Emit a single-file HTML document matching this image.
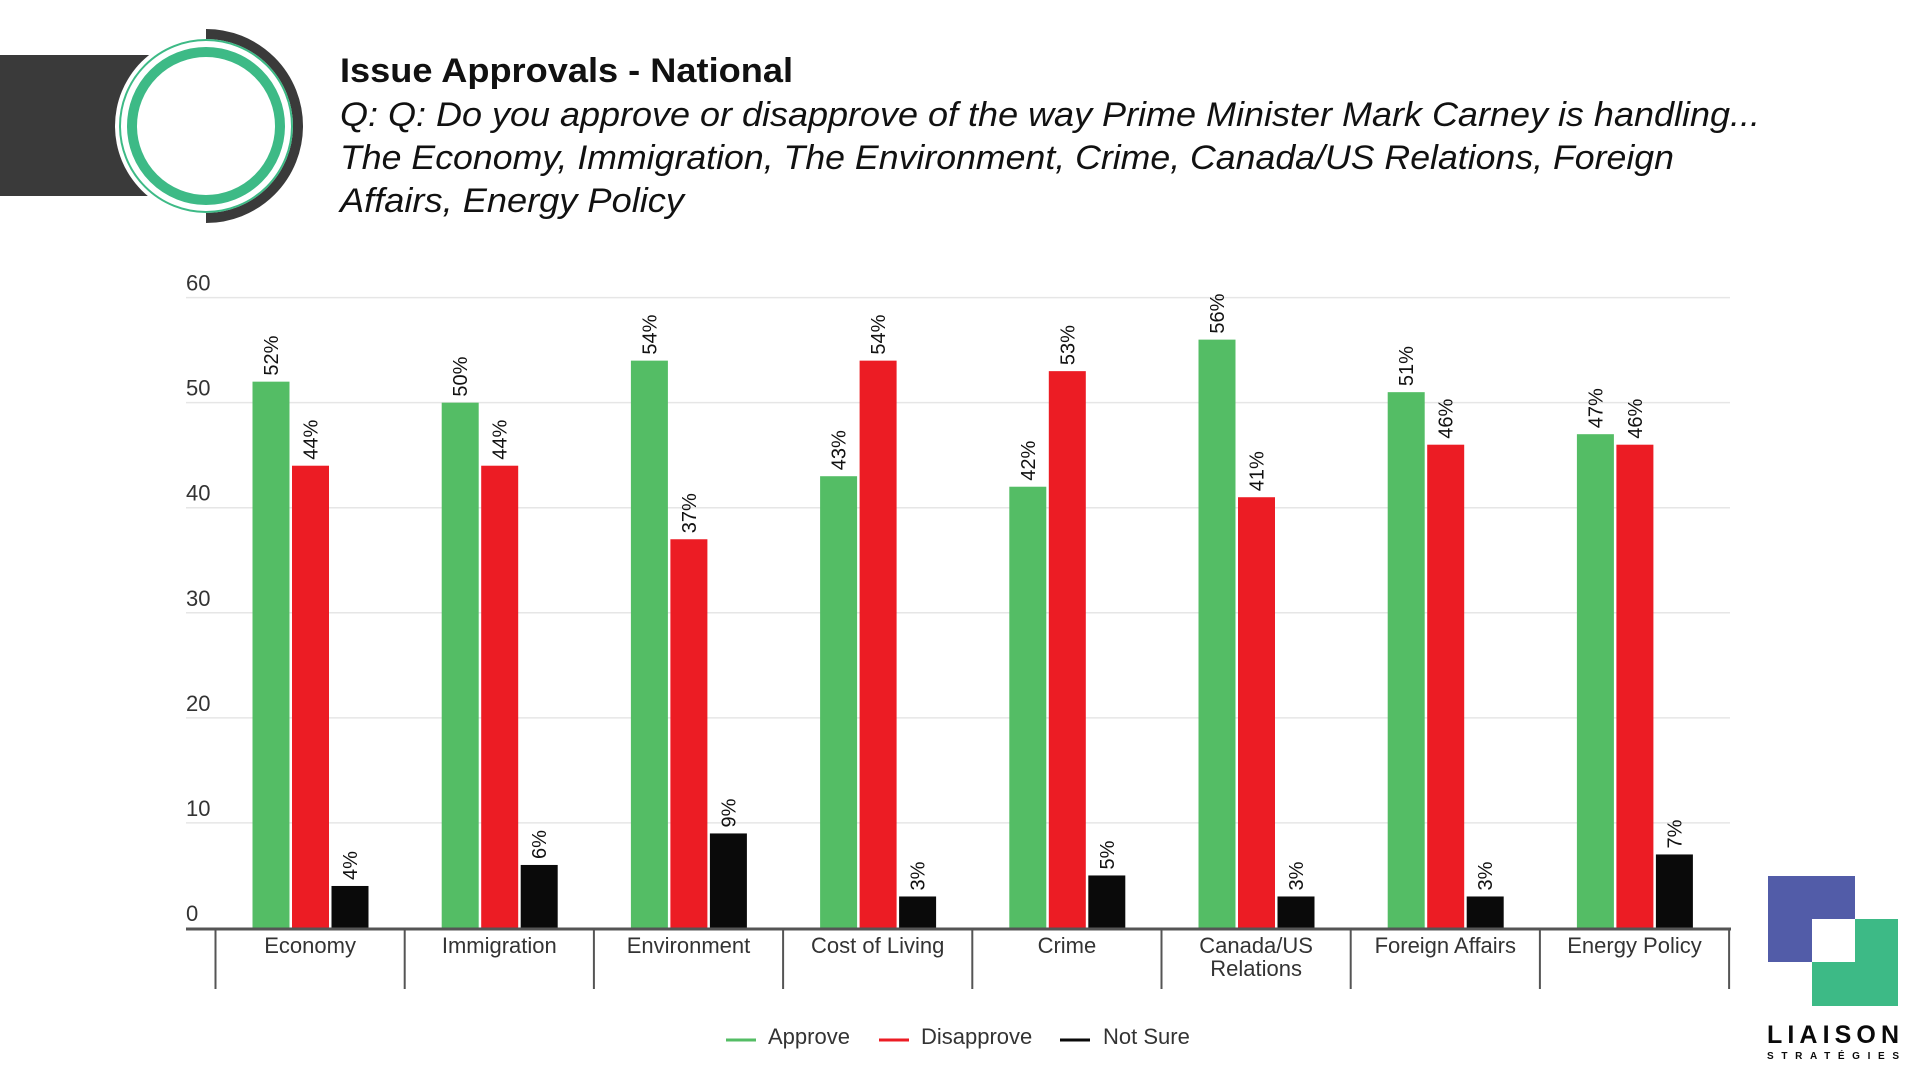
<!DOCTYPE html>
<html><head><meta charset="utf-8"><style>
html,body{margin:0;padding:0;background:#fff;width:1920px;height:1080px;overflow:hidden}
svg{display:block}
text{font-family:"Liberation Sans",sans-serif}
</style></head><body>
<svg id="chart" width="1920" height="1080" viewBox="0 0 1920 1080">
  <g>
    <rect x="0" y="55" width="160" height="141" fill="#3a3a3a"/>
    <circle cx="206" cy="126" r="91" fill="#fff"/>
    <path d="M 206 34 A 92 92 0 0 1 206 218" fill="none" stroke="#3a3a3a" stroke-width="10"/>
    <circle cx="206" cy="126" r="86" fill="#fff" stroke="#3dba86" stroke-width="2"/>
    <circle cx="206" cy="126" r="74" fill="#fff" stroke="#3dba86" stroke-width="10"/>
  </g>
  <text x="340" y="82" font-size="34" font-weight="bold" fill="#111" textLength="453" lengthAdjust="spacingAndGlyphs">Issue Approvals - National</text>
  <g font-size="34" font-style="italic" fill="#111">
    <text x="340" y="126" textLength="1420" lengthAdjust="spacingAndGlyphs">Q: Q: Do you approve or disapprove of the way Prime Minister Mark Carney is handling...</text>
    <text x="340" y="169" textLength="1334" lengthAdjust="spacingAndGlyphs">The Economy, Immigration, The Environment, Crime, Canada/US Relations, Foreign</text>
    <text x="340" y="212" textLength="344" lengthAdjust="spacingAndGlyphs">Affairs, Energy Policy</text>
  </g>
  <g id="grid"></g>
  <g id="bars"></g>
  <g id="xaxis"></g>
  <g font-size="22" fill="#333">
    <g><line x1="726" y1="1040" x2="756" y2="1040" stroke="#54bd65" stroke-width="3"/><text x="768" y="1044">Approve</text></g>
    <g><line x1="879" y1="1040" x2="909" y2="1040" stroke="#ec1c24" stroke-width="3"/><text x="921" y="1044">Disapprove</text></g>
    <g><line x1="1060" y1="1040" x2="1090" y2="1040" stroke="#0a0a0a" stroke-width="3"/><text x="1103" y="1044">Not Sure</text></g>
  </g>
  <g>
    <rect x="1768" y="876" width="87" height="86" fill="#525ca8"/>
    <rect x="1812" y="919" width="86" height="87" fill="#3dba86"/>
    <rect x="1812" y="919" width="43" height="43" fill="#fff"/>
    <text x="1767" y="1043" font-size="25" font-weight="bold" fill="#0a0a0a" textLength="132" lengthAdjust="spacing">LIAISON</text>
    <text x="1767" y="1059" font-size="10" font-weight="bold" fill="#0a0a0a" textLength="132" lengthAdjust="spacing">STRATÉGIES</text>
  </g>
</svg>
<script>
const categories = ["Economy","Immigration","Environment","Cost of Living","Crime","Canada/US|Relations","Foreign Affairs","Energy Policy"];
const approve = [52,50,54,43,42,56,51,47];
const disapprove = [44,44,37,54,53,41,46,46];
const notSure = [4,6,9,3,5,3,3,7];
const yTicks = [0,10,20,30,40,50,60];

const NS = "http://www.w3.org/2000/svg";
const X0 = 215.5, CW = 189.2, Y0 = 928, YTOP = 297.6, YMAX = 60;
const y = v => Y0 - (Y0 - YTOP) * v / YMAX;
const catX = i => X0 + i * CW;
function mk(tag, attrs, parent){ const e=document.createElementNS(NS,tag); for(const k in attrs) e.setAttribute(k,attrs[k]); parent.appendChild(e); return e; }

const grid = document.getElementById('grid');
yTicks.forEach(t=>{
  if(t>0){
    const l = mk('line',{x1:186,x2:1730,y1:y(t),y2:y(t),stroke:'#e6e6e6','stroke-width':1.5},grid);
    
    
  }
  const tx = mk('text',{x:186,y:y(t)-7,'font-size':22,fill:'#333'},grid);
  tx.textContent = t;
  
  
});

const bars = document.getElementById('bars');
const series = [[approve,'#54bd65','approve'],[disapprove,'#ec1c24','disapprove'],[notSure,'#0a0a0a','not-sure']];
const BW = 37, OFF = 37, STEP = 39.5;
categories.forEach((c,i)=>{
  series.forEach(([vals,col,nm],s)=>{
    const v = vals[i];
    const bx = catX(i) + OFF + s*STEP;
    const r = mk('rect',{x:bx,y:y(v),width:BW,height:Y0-y(v),fill:col},bars);
    
    
    const cx = bx + BW/2 + 7, cy = y(v) - 6;
    const t = mk('text',{x:cx,y:cy,'font-size':20,fill:'#111',transform:`rotate(-90 ${cx} ${cy})`},bars);
    t.textContent = v + '%';
    
    
  });
});

const xa = document.getElementById('xaxis');
const ax = mk('line',{x1:186,x2:1731,y1:Y0+1,y2:Y0+1,stroke:'#555','stroke-width':3},xa);


for(let i=0;i<=categories.length;i++){
  const d = mk('line',{x1:catX(i),x2:catX(i),y1:Y0,y2:989,stroke:'#555','stroke-width':2},xa);
  
  
}
categories.forEach((c,i)=>{
  c.split('|').forEach((ln,j)=>{
    const t = mk('text',{x:catX(i)+CW/2,y:953+j*23,'font-size':22,fill:'#333','text-anchor':'middle'},xa);
    t.textContent = ln;
    
    
  });
});
</script>
</body></html>
